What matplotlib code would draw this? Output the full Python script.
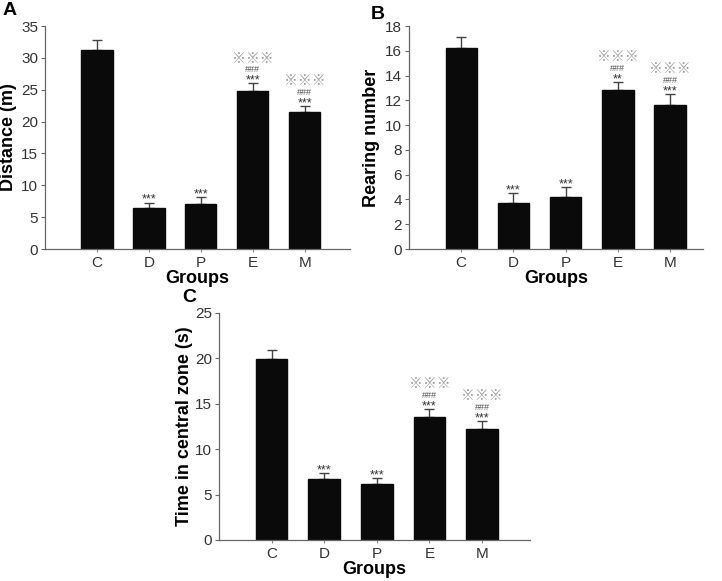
import matplotlib.pyplot as plt

plt.rcParams['font.family'] = ['Liberation Sans', 'DejaVu Sans']

groups = ['C', 'D', 'P', 'E', 'M']

distance = [31.2, 6.4, 7.1, 24.8, 21.5]
distance_err = [1.6, 0.9, 1.1, 1.2, 1.0]
distance_marks = ['', '***', '***', '***\n###\n※※※', '***\n###\n※※※']

rearing = [16.2, 3.7, 4.2, 12.8, 11.6]
rearing_err = [0.9, 0.8, 0.8, 0.7, 0.9]
rearing_marks = ['', '***', '***', '**\n###\n※※※', '***\n###\n※※※']

central_time = [19.9, 6.7, 6.2, 13.5, 12.2]
central_time_err = [1.0, 0.7, 0.6, 0.9, 0.9]
central_marks = ['', '***', '***', '***\n###\n※※※', '***\n###\n※※※']


def draw_panel(ax, values, errors, marks, ylabel, ymax, ystep, xmax, label_x):
    x = list(range(len(groups)))
    ax.bar(x, values, width=0.6, color='#0a0a0a', edgecolor='#0a0a0a', zorder=2)
    ax.errorbar(x, values, yerr=[[0] * len(errors), errors], fmt='none',
                ecolor='#444444', elinewidth=1.0, capsize=3.5, capthick=1.0, zorder=1)
    for xi, v, e, m in zip(x, values, errors, marks):
        if not m:
            continue
        top = v + e
        for line in m.split('\n'):
            # baseline offsets in points above the error bar cap
            if line.startswith('*'):
                ax.annotate(line, (xi, top), xytext=(0, -0.3), textcoords='offset points',
                            ha='center', va='baseline', fontsize=9, color='#333333')
            elif line.startswith('#'):
                ax.annotate(line, (xi, top), xytext=(0, 8.0), textcoords='offset points',
                            ha='center', va='baseline', fontsize=6.5, color='#505050')
            else:
                ax.annotate(line, (xi, top), xytext=(0, 15.0), textcoords='offset points',
                            ha='center', va='baseline', fontsize=10, color='#a0a0a0',
                            family=['Noto Sans CJK JP', 'DejaVu Sans'])
    ax.set_xlim(-1.0, xmax)
    ax.set_ylim(0, ymax)
    ax.set_yticks(range(0, ymax + 1, ystep))
    ax.set_xticks(x)
    ax.set_xticklabels(groups)
    ax.set_xlabel('Groups', fontsize=13, fontweight='bold', labelpad=0)
    ax.set_ylabel(ylabel, fontsize=13, fontweight='bold')
    ax.yaxis.set_label_coords(label_x, 0.5)
    for s in ['top', 'right']:
        ax.spines[s].set_visible(False)
    for s in ['left', 'bottom']:
        ax.spines[s].set_color('#666666')
        ax.spines[s].set_linewidth(0.9)
    ax.tick_params(axis='y', direction='out', length=3, width=0.8, color='#666666',
                   labelsize=11, labelcolor='#333333', pad=2)
    ax.tick_params(axis='x', direction='out', length=2, width=0.8, color='#888888',
                   labelsize=11, labelcolor='#333333', pad=3)


fig = plt.figure(figsize=(7.22, 5.81), dpi=100)
ax_a = fig.add_axes([0.0623, 0.5714, 0.4225, 0.3838])
ax_b = fig.add_axes([0.5665, 0.5714, 0.4072, 0.3838])
ax_c = fig.add_axes([0.3033, 0.0706, 0.4307, 0.3907])

draw_panel(ax_a, distance, distance_err, distance_marks, 'Distance (m)', 35, 5, 4.87, -0.093)
draw_panel(ax_b, rearing, rearing_err, rearing_marks, 'Rearing number', 18, 2, 4.63, -0.100)
draw_panel(ax_c, central_time, central_time_err, central_marks,
           'Time in central zone (s)', 25, 5, 4.91, -0.085)

fig.text(0.003, 0.997, 'A', fontsize=14, fontweight='bold', va='top', ha='left')
fig.text(0.514, 0.990, 'B', fontsize=14, fontweight='bold', va='top', ha='left')
fig.text(0.252, 0.502, 'C', fontsize=14, fontweight='bold', va='top', ha='left')

fig.savefig('out.png', dpi=100)
